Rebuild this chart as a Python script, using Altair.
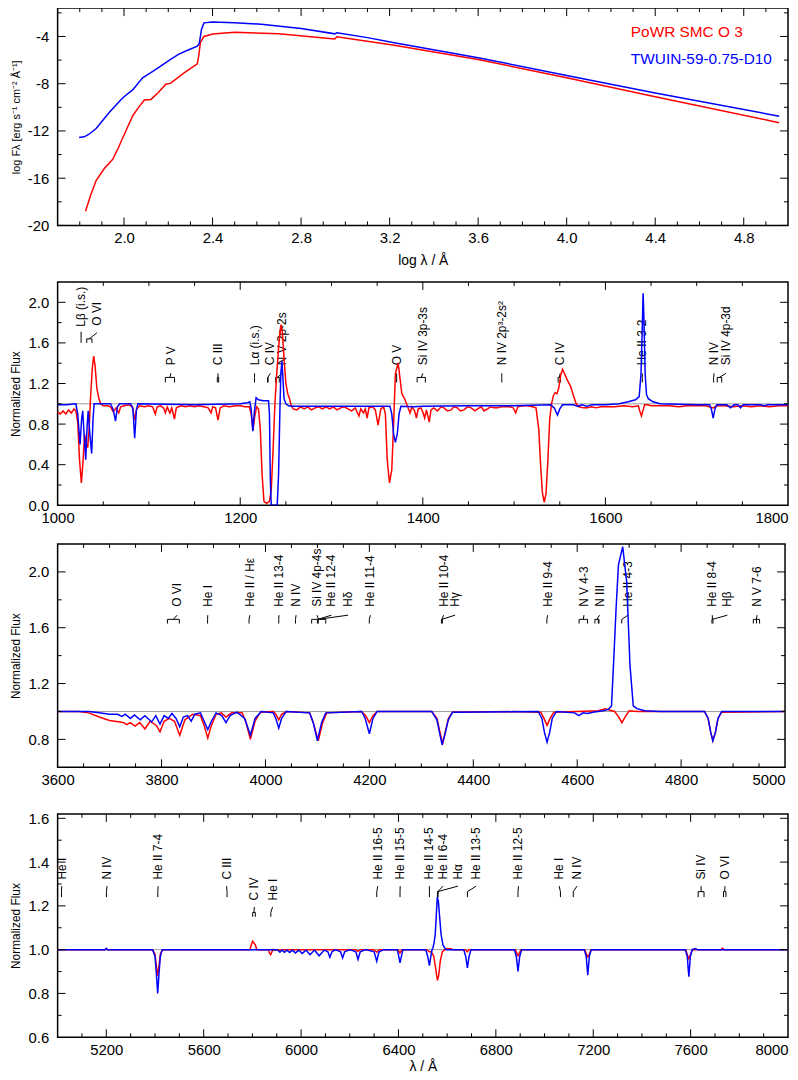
import altair as alt
import pandas as pd
import numpy as np

FONT = "Liberation Sans"
RED = "#ff0000"
BLUE = "#0000ff"

# ---------------- Panel 1: SED (log lambda, log F) ----------------
P1_BLUE = [(1.797,-12.56),(1.82,-12.5),(1.84,-12.3),(1.874,-11.79),(1.934,-10.42),(1.987,-9.33),(2.0,-9.1),
           (2.04,-8.5),(2.084,-7.5),(2.13,-6.95),(2.174,-6.4),(2.21,-5.95),(2.248,-5.5),(2.29,-5.15),(2.331,-4.82),
           (2.340,-4.6),(2.35,-3.4),(2.361,-2.85),(2.40,-2.78),(2.50,-2.84),(2.62,-2.96),(2.80,-3.33),(2.953,-3.78),
           (2.962,-3.68),(3.10,-4.1),(3.221,-4.54),(3.6,-5.8),(4.0,-7.3),(4.4,-8.78),(4.96,-10.75)]
P1_RED = [(1.826,-18.79),(1.85,-17.4),(1.874,-16.2),(1.91,-15.2),(1.949,-14.4),(1.975,-13.4),(2.0,-12.34),
          (2.04,-10.69),(2.07,-9.9),(2.092,-9.38),(2.122,-9.33),(2.155,-8.75),(2.189,-8.04),(2.211,-7.95),
          (2.27,-7.1),(2.331,-6.32),(2.338,-5.6),(2.345,-4.5),(2.361,-4.0),(2.40,-3.8),(2.50,-3.64),(2.70,-3.78),
          (2.952,-4.21),(2.962,-4.02),(3.221,-4.74),(3.6,-5.95),(4.0,-7.5),(4.4,-9.1),(4.96,-11.3)]
LEGEND = [(4.29, -3.62, "PoWR SMC O 3", RED), (4.29, -5.92, "TWUIN-59-0.75-D10", BLUE)]

# ---------------- Panel 2: UV 1000-1800 A ----------------
P2_RED = [(1000,0.92),(1003,0.90),(1006,0.93),(1009,0.90),(1012,0.94),(1015,0.91),(1018,0.95),(1020,0.93),
          (1022,0.82),(1024,0.45),(1026,0.22),(1028,0.45),(1029.5,0.70),(1031,0.62),(1033,0.57),(1034.5,0.75),
          (1036,1.05),(1038,1.35),(1039.5,1.47),(1041,1.38),(1043,1.15),(1045,1.06),(1047,1.00),(1050,0.98),
          (1055,0.98),(1058,0.97),(1061,0.92),(1064,0.96),(1067,0.91),(1069,0.97),(1073,0.98),(1078,0.99),
          (1082,0.97),(1084.5,0.84),(1086.5,0.95),(1090,0.98),(1095,0.97),(1100,0.98),(1104,0.97),(1107,0.90),
          (1109,0.97),(1113,0.98),(1116,0.96),(1118,0.91),(1120,0.97),(1123,0.91),(1125,0.96),(1128,0.85),
          (1130,0.96),(1135,0.98),(1140,0.97),(1145,0.98),(1150,0.97),(1155,0.98),(1160,0.97),(1165,0.96),
          (1168,0.91),(1170,0.97),(1173,0.96),(1175.7,0.84),(1178,0.96),(1182,0.98),(1188,0.97),(1195,0.98),
          (1200,0.98),(1205,0.97),(1210,0.97),(1212,0.90),(1214,0.74),(1216,0.88),(1218,0.97),(1220,0.95),
          (1222,0.75),(1224,0.30),(1226,0.04),(1229,0.02),(1232,0.04),(1234,0.15),(1236,0.55),(1238,1.00),
          (1240,1.30),(1242,1.55),(1244.5,1.78),(1246,1.72),(1248,1.45),(1250,1.20),(1252,1.10),(1254,1.05),
          (1256,0.98),(1258,0.95),(1262,0.94),(1266,0.97),(1270,0.95),(1274,0.97),(1278,0.94),(1282,0.96),
          (1286,0.97),(1290,0.95),(1294,0.97),(1298,0.95),(1302,0.97),(1306,0.94),(1310,0.96),(1314,0.97),
          (1318,0.95),(1322,0.93),(1326,0.96),(1330,0.88),(1332,0.95),(1335,0.91),(1337,0.95),(1339,0.86),
          (1341,0.96),(1345,0.97),(1348,0.94),(1351,0.79),(1354,0.95),(1357,0.97),(1359,0.90),(1361,0.45),
          (1363.5,0.22),(1366,0.35),(1368,0.80),(1370,1.30),(1373,1.40),(1375,1.25),(1377,1.10),(1380,1.05),
          (1383,0.98),(1386,0.91),(1388,0.97),(1391,0.93),(1393,0.86),(1395,0.95),(1398,0.96),(1400,0.92),
          (1402,0.86),(1404,0.94),(1407,0.82),(1409,0.94),(1412,0.96),(1416,0.93),(1420,0.97),(1423,0.96),
          (1427,0.93),(1431,0.94),(1434,0.97),(1438,0.96),(1441,0.93),(1445,0.94),(1449,0.97),(1453,0.96),
          (1457,0.93),(1460,0.95),(1464,0.97),(1467,0.93),(1471,0.95),(1474,0.97),(1478,0.96),(1482,0.96),
          (1486,0.97),(1490,0.97),(1495,0.97),(1499,0.96),(1501.8,0.91),(1504,0.97),(1510,0.98),(1515,0.98),
          (1520,0.97),(1524,0.96),(1527,0.75),(1529,0.40),(1531,0.12),(1533,0.03),(1535,0.12),(1537,0.45),
          (1539,0.85),(1541,1.00),(1543,1.08),(1545,1.11),(1547,1.10),(1549,1.16),(1551,1.28),(1553,1.34),
          (1556,1.28),(1559,1.22),(1562,1.17),(1565,1.08),(1568,1.00),(1571,0.97),(1576,0.96),(1580,0.96),
          (1585,0.97),(1590,0.96),(1595,0.97),(1600,0.97),(1610,0.97),(1620,0.98),(1630,0.97),(1636,0.98),
          (1638,0.92),(1639.5,0.88),(1641,0.93),(1643,0.99),(1646,0.99),(1650,0.98),(1660,0.98),(1670,0.98),
          (1680,0.97),(1690,0.98),(1700,0.98),(1710,0.98),(1718,0.96),(1722,0.98),(1730,0.98),(1740,0.97),
          (1750,0.98),(1760,0.97),(1770,0.98),(1780,0.97),(1790,0.98),(1800,0.98)]
P2_BLUE = [(1000,0.99),(1010,0.99),(1020,1.00),(1022,0.90),(1024.6,0.60),(1026.3,0.85),(1027.5,0.93),(1029,0.70),
           (1030.8,0.45),(1032.3,0.78),(1033.5,0.93),(1035.3,0.70),(1037.3,0.51),(1038.8,0.85),(1040,1.00),
           (1058,1.00),(1061,0.94),(1063.4,0.83),(1065.5,0.97),(1068,1.00),(1080,1.00),(1082.5,0.95),
           (1084.4,0.66),(1086.3,0.94),(1088,1.00),(1150,0.99),(1200,1.00),(1208,1.01),(1210.5,1.02),(1212,0.95),
           (1213.8,0.73),(1215.5,0.92),(1217.4,1.06),(1220,1.04),(1225,1.03),(1231,1.03),(1232,0.90),(1233,0.25),
           (1234,0.00),(1240.5,0.00),(1242,0.30),(1243.5,0.95),(1244.5,1.30),(1245.7,1.42),(1246.8,1.25),
           (1248,1.05),(1250,1.00),(1253,0.98),(1256,0.975),(1300,0.975),(1350,0.975),(1364,0.975),(1366,0.90),
           (1368,0.70),(1370,0.62),(1372,0.70),(1374,0.90),(1376,0.975),(1390,0.97),(1400,0.975),(1450,0.98),
           (1500,0.98),(1520,0.985),(1540,0.99),(1544,0.96),(1547.5,0.89),(1550,0.95),(1553,0.99),(1565,0.99),
           (1570,0.975),(1574,0.99),(1580,0.975),(1585,0.99),(1600,0.99),(1615,1.00),(1625,1.02),(1633,1.04),
           (1637,1.07),(1639,1.3),(1640.5,1.8),(1641.3,2.09),(1642.3,1.8),(1643.5,1.3),(1645,1.09),(1647,1.05),
           (1652,1.02),(1660,1.00),(1700,0.99),(1714,0.99),(1716,0.95),(1718,0.86),(1720,0.95),(1722,0.99),
           (1733,0.99),(1737,0.96),(1741,0.99),(1745,0.99),(1748,0.96),(1751,0.99),(1770,0.99),(1774,0.98),
           (1778,0.99),(1800,0.99)]

# ---------------- Panel 3: 3600-5000 A ----------------
P3_RED = [(3600,1.0),(3640,1.0),(3660,0.99),(3680,0.96),(3700,0.935),(3720,0.925),(3727,0.92),(3733,0.905),
          (3740,0.92),(3749,0.895),(3758,0.92),(3768,0.875),(3778,0.93),(3790,0.90),(3797,0.855),(3805,0.93),
          (3815,0.95),(3825,0.93),(3835,0.83),(3845,0.94),(3860,0.98),(3875,0.97),(3882,0.90),(3889,0.81),
          (3896,0.90),(3905,0.98),(3915,0.99),(3924,0.96),(3935,0.99),(3955,0.99),(3962,0.93),(3971,0.80),
          (3980,0.93),(3990,0.995),(4015,1.0),(4020,0.98),(4025.6,0.94),(4031,0.98),(4040,1.0),(4085,0.99),
          (4092,0.92),(4101.7,0.79),(4110,0.92),(4118,0.99),(4185,1.0),(4193,0.97),(4200,0.92),(4207,0.97),
          (4215,1.0),(4320,1.0),(4330,0.95),(4336,0.85),(4341,0.77),(4346,0.85),(4352,0.95),(4360,0.995),
          (4470,1.0),(4472,0.995),(4475,1.0),(4530,0.995),(4536,0.95),(4542,0.90),(4548,0.95),(4555,0.995),
          (4600,1.0),(4640,1.005),(4655,1.02),(4662,1.01),(4672,1.0),(4680,0.96),(4686,0.92),(4692,0.96),
          (4700,1.005),(4715,1.0),(4845,1.0),(4852,0.95),(4857,0.85),(4861,0.79),(4866,0.85),(4871,0.95),
          (4878,0.995),(5000,1.0)]
P3_BLUE = [(3600,1.0),(3660,1.0),(3680,0.99),(3700,0.98),(3715,0.98),(3724,0.965),(3730,0.98),(3740,0.95),
           (3748,0.975),(3759,0.94),(3768,0.97),(3781,0.925),(3789,0.97),(3797,0.91),(3805,0.97),(3813,0.95),
           (3820,0.985),(3828,0.95),(3835,0.89),(3842,0.96),(3850,0.97),(3857,0.93),(3864,0.98),(3875,0.99),
           (3882,0.93),(3889,0.87),(3896,0.93),(3905,0.99),(3916,0.97),(3924,0.92),(3932,0.97),(3945,0.995),
           (3960,0.95),(3971,0.83),(3980,0.95),(3992,1.0),(4015,0.99),(4020,0.95),(4025.6,0.88),(4031,0.95),
           (4040,1.0),(4085,0.99),(4092,0.92),(4100,0.79),(4108,0.92),(4116,0.99),(4185,1.0),(4192,0.95),
           (4200,0.84),(4207,0.95),(4215,1.0),(4320,1.0),(4330,0.94),(4336,0.83),(4340,0.76),(4345,0.83),
           (4352,0.94),(4360,0.995),(4525,1.0),(4532,0.95),(4537,0.85),(4542,0.78),(4547,0.85),(4552,0.95),
           (4560,1.0),(4595,0.99),(4603,0.97),(4611,0.99),(4620,0.985),(4630,0.995),(4650,1.005),(4660,1.015),
           (4666,1.04),(4669.8,1.33),(4675,1.75),(4679.4,2.05),(4687.6,2.18),(4695.2,1.93),(4701.6,1.33),
           (4707.9,1.04),(4715,1.02),(4730,1.005),(4760,1.0),(4845,1.0),(4852,0.95),(4857,0.85),(4861,0.79),
           (4866,0.85),(4871,0.95),(4878,1.0),(5000,1.0)]

# ---------------- Panel 4: 5000-8000 A ----------------
P4_RED = [(5000,1.0),(5195,1.0),(5200,1.003),(5205,1.0),(5390,1.0),(5400,0.98),(5405,0.93),(5411,0.88),
          (5417,0.93),(5422,0.98),(5430,1.0),(5790,1.0),(5795,1.02),(5801,1.038),(5807,1.03),(5813,1.02),
          (5818,1.0),(5866,1.0),(5870,0.985),(5875,0.977),(5880,0.99),(5885,1.0),(5915,0.997),(5925,1.0),
          (6225,1.0),(6234,0.992),(6243,1.0),(6300,1.0),(6311,0.988),(6320,1.0),(6398,1.0),(6406,0.985),
          (6414,1.0),(6515,1.0),(6527,0.99),(6535,0.99),(6545,0.97),(6552,0.92),(6560,0.86),(6565,0.88),
          (6572,0.95),(6580,0.99),(6590,1.0),(6600,1.005),(6615,1.004),(6625,1.0),(6675,1.0),(6683,0.99),
          (6690,1.0),(6880,1.0),(6886,0.985),(6891,0.973),(6897,0.985),(6903,1.0),(7165,1.0),(7172,0.98),
          (7178,0.967),(7184,0.98),(7191,1.0),(7580,1.0),(7587,0.975),(7593,0.958),(7599,0.975),(7606,1.0),
          (7725,1.0),(7731,1.006),(7737,1.0),(8000,1.0)]
P4_BLUE = [(5000,1.0),(5195,1.0),(5200,1.006),(5205,1.0),(5390,1.0),(5400,0.97),(5405,0.90),(5411,0.80),
           (5417,0.90),(5422,0.97),(5430,1.0),(5900,1.0),(5906,0.997),(5913,0.988),(5922,0.998),(5932,0.988),
           (5942,0.998),(5953,0.987),(5964,0.998),(5977,0.985),(5990,0.998),(6004.7,0.982),(6020,0.998),
           (6036.7,0.977),(6055,0.998),(6074.1,0.972),(6095,0.998),(6110,0.99),(6118.2,0.965),(6127,0.99),
           (6140,1.0),(6162,0.99),(6170.6,0.962),(6179,0.99),(6200,1.0),(6225,0.99),(6233.8,0.955),(6243,0.99),
           (6265,1.0),(6300,0.99),(6310.8,0.947),(6320,0.99),(6340,1.0),(6395,1.0),(6400,0.975),(6406.4,0.94),
           (6413,0.975),(6418,1.0),(6512,1.0),(6520,0.97),(6527.1,0.927),(6533,0.97),(6538,1.0),(6542,1.01),
           (6546,1.03),(6551,1.07),(6555,1.15),(6559.5,1.24),(6564,1.22),(6569,1.15),(6575,1.07),(6583,1.02),
           (6595,1.0),(6668,1.0),(6676,0.97),(6683.2,0.917),(6690,0.97),(6698,1.0),(6876,1.0),(6884,0.97),
           (6890.9,0.90),(6898,0.97),(6906,1.0),(7163,1.0),(7171,0.97),(7177.5,0.883),(7184,0.97),(7192,1.0),
           (7578,1.0),(7586,0.97),(7592.7,0.876),(7599,0.97),(7607,1.0),(7614,1.003),(7620,1.005),(7628,1.0),
           (8000,1.0)]

# ---------------- line identifications ----------------
G2 = [
    dict(comps=[1025.72], labels=[("Lβ (i.s.)", 1025.7)], fa=1.60, fb=1.65, fc=1.71, ft=1.76),
    dict(comps=[1031.9, 1037.6], labels=[("O VI", 1043)], fa=1.60, fb=1.64, fc=1.70, ft=1.77),
    dict(comps=[1118.0, 1128.0], labels=[("P V", 1124)]),
    dict(comps=[1174.9, 1176.4], labels=[("C III", 1175.7)]),
    dict(comps=[1215.67], labels=[("Lα (i.s.)", 1215.7)]),
    dict(comps=[1230.0, 1230.5], labels=[("C IV", 1233)]),
    dict(comps=[1238.8, 1242.8], labels=[("N V 2p-2s", 1246)]),
    dict(comps=[1371.3], labels=[("O V", 1371.3)]),
    dict(comps=[1393.76, 1402.77], labels=[("Si IV 3p-3s", 1400)]),
    dict(comps=[1486.5], labels=[("N IV 2p³-2s²", 1486.5)]),
    dict(comps=[1548.2, 1550.8], labels=[("C IV", 1550.5)]),
    dict(comps=[1640.4], labels=[("He II 3-2", 1640.4)]),
    dict(comps=[1718.5], labels=[("N IV", 1719)]),
    dict(comps=[1722.5, 1727.4], labels=[("Si IV 4p-3d", 1732)]),
]
G3 = [
    dict(comps=[3811.35, 3834.24], labels=[("O VI", 3830)]),
    dict(comps=[3888.6], labels=[("He I", 3889)]),
    dict(comps=[3968.4], labels=[("He II / Hε", 3970)]),
    dict(comps=[4025.6], labels=[("He II 13-4", 4026)]),
    dict(comps=[4057.8], labels=[("N IV", 4059)]),
    dict(comps=[4088.9, 4116.1], labels=[("Si IV 4p-4s", 4099)]),
    dict(comps=[4100.0, 4101.7], labels=[("He II 12-4", 4127), ("Hδ", 4159)]),
    dict(comps=[4199.8], labels=[("He II 11-4", 4202)]),
    dict(comps=[4338.7, 4340.5], labels=[("He II 10-4", 4343), ("Hγ", 4365)]),
    dict(comps=[4541.6], labels=[("He II 9-4", 4543)]),
    dict(comps=[4603.7, 4619.9], labels=[("N V 4-3", 4613)]),
    dict(comps=[4634.1, 4640.6, 4641.9], labels=[("N III", 4643)]),
    dict(comps=[4685.7], labels=[("He II 4-3", 4698)]),
    dict(comps=[4859.3, 4861.3], labels=[("He II 8-4", 4860), ("Hβ", 4889)]),
    dict(comps=[4939.0, 4945.0, 4951.0], labels=[("N V 7-6", 4946)]),
]
G4 = [
    dict(comps=[5015.7], labels=[("He I", 5017)]),
    dict(comps=[5200.4], labels=[("N IV", 5203)]),
    dict(comps=[5411.5], labels=[("He II 7-4", 5413)]),
    dict(comps=[5695.9], labels=[("C III", 5694)]),
    dict(comps=[5801.3, 5812.0], labels=[("C IV", 5808)], fa=1.15, fb=1.17, fc=1.195, ft=1.225),
    dict(comps=[5875.6], labels=[("He I", 5883)], fa=1.15, fb=1.17, fc=1.195, ft=1.225),
    dict(comps=[6310.8], labels=[("He II 16-5", 6315)]),
    dict(comps=[6406.4], labels=[("He II 15-5", 6407)]),
    dict(comps=[6527.1], labels=[("He II 14-5", 6527)]),
    dict(comps=[6560.1, 6562.8], labels=[("He II 6-4", 6583), ("Hα", 6644)]),
    dict(comps=[6683.2], labels=[("He II 13-5", 6719)]),
    dict(comps=[6890.9], labels=[("He II 12-5", 6893)]),
    dict(comps=[7065.2], labels=[("He I", 7060)]),
    dict(comps=[7118.0], labels=[("N IV", 7133)]),
    dict(comps=[7631.0, 7655.0], labels=[("Si IV", 7643)]),
    dict(comps=[7735.0, 7745.0], labels=[("O VI", 7741)]),
]


def annot_frames(groups, fa, fb, fc, ft):
    segs, texts = [], []
    for g in groups:
        a, b, c, t = g.get("fa", fa), g.get("fb", fb), g.get("fc", fc), g.get("ft", ft)
        comps = g["comps"]
        for cx in comps:
            segs.append((cx, a, cx, b))
        if len(comps) > 1:
            segs.append((min(comps), b, max(comps), b))
        cen = (min(comps) + max(comps)) / 2.0
        for text, lx in g["labels"]:
            segs.append((cen, b, lx, c))
            texts.append((lx, t, text))
    return (pd.DataFrame(segs, columns=["x", "y", "x2", "y2"]),
            pd.DataFrame(texts, columns=["x", "y", "t"]))


def tick_layers(xmaj, xmin, ymaj, ymin, W, H):
    layers = []
    for vals, ln in ((xmaj, 8), (xmin, 4)):
        d = pd.DataFrame({"x": vals})
        base = alt.Chart(d).mark_rule(color="black", strokeWidth=1)
        layers.append(base.encode(x="x:Q", y=alt.value(H), y2=alt.value(H - ln)))
        layers.append(base.encode(x="x:Q", y=alt.value(0), y2=alt.value(ln)))
    for vals, ln in ((ymaj, 8), (ymin, 4)):
        d = pd.DataFrame({"y": vals})
        base = alt.Chart(d).mark_rule(color="black", strokeWidth=1)
        layers.append(base.encode(y="y:Q", x=alt.value(0), x2=alt.value(ln)))
        layers.append(base.encode(y="y:Q", x=alt.value(W), x2=alt.value(W - ln)))
    return layers


def xaxis(values, fmt, title, title_color="black", tfs=14, tpad=3, last=None):
    kw = dict(values=values, format=fmt, ticks=False, domain=False, grid=False, labelFontSize=15,
              labelPadding=5, labelColor="black", labelFont=FONT, title=title, titleFont=FONT,
              titleFontSize=tfs, titleFontWeight="normal", titleColor=title_color, titlePadding=tpad,
              labelOverlap=False, labelBound=False)
    if last is not None:
        kw["labelAlign"] = {"condition": {"test": f"datum.value >= {last}", "value": "right"},
                            "value": "center"}
    return alt.Axis(**kw)


def yaxis(values, title, fmt=None, expr=None, tfs=12):
    kw = dict(values=values, ticks=False, domain=False, grid=False, labelFontSize=15, labelPadding=9,
              labelColor="black", labelFont=FONT, title=title, titleFont=FONT, titleFontSize=tfs,
              titleFontWeight="normal", titleColor="black", titlePadding=6, labelOverlap=False)
    if fmt:
        kw["format"] = fmt
    if expr:
        kw["labelExpr"] = expr
    return alt.Axis(**kw)


def frange(a, b, step):
    n = int(round((b - a) / step))
    return [round(a + i * step, 6) for i in range(n + 1)]


def spectral_panel(red, blue, groups, lv, xdom, ydom, W, H, xmajor, xminor_step, ymajor, yminor_step,
                   xlab_vals, xtitle, xtitle_color, xtfs):
    xs = alt.Scale(domain=xdom, nice=False, zero=False)
    ys = alt.Scale(domain=ydom, nice=False, zero=False)
    segs, texts = annot_frames(groups, *lv)
    cont = alt.Chart(pd.DataFrame({"y": [1.0]})).mark_rule(color="#9a9a9a", strokeWidth=1).encode(
        y=alt.Y("y:Q", scale=ys))
    seg = alt.Chart(segs).mark_rule(color="black", strokeWidth=1).encode(
        x=alt.X("x:Q", scale=xs), y=alt.Y("y:Q", scale=ys), x2="x2", y2="y2")
    txt = alt.Chart(texts).mark_text(angle=270, align="left", baseline="middle", font=FONT,
                                     fontSize=12, color="black").encode(
        x=alt.X("x:Q", scale=xs), y=alt.Y("y:Q", scale=ys), text="t:N")
    r = alt.Chart(pd.DataFrame(red, columns=["x", "y"])).mark_line(color=RED, strokeWidth=1.5, clip=True).encode(
        x=alt.X("x:Q", scale=xs, axis=xaxis(xlab_vals, "d", xtitle, xtitle_color, xtfs, 3, last=xdom[1])),
        y=alt.Y("y:Q", scale=ys, axis=yaxis(ymajor, "Normalized Flux", fmt=".1f")))
    b = alt.Chart(pd.DataFrame(blue, columns=["x", "y"])).mark_line(color=BLUE, strokeWidth=1.5, clip=True).encode(
        x=alt.X("x:Q", scale=xs), y=alt.Y("y:Q", scale=ys))
    xminor = [v for v in frange(xdom[0], xdom[1], xminor_step) if v not in xmajor and xdom[0] < v < xdom[1]]
    yminor = [v for v in frange(ydom[0], ydom[1], yminor_step)
              if all(abs(v - m) > 1e-6 for m in ymajor) and ydom[0] < v < ydom[1]]
    ticks = tick_layers([v for v in xmajor if xdom[0] < v < xdom[1]], xminor,
                        [v for v in ymajor if ydom[0] < v < ydom[1]], yminor, W, H)
    return alt.layer(cont, seg, txt, r, b, *ticks).properties(width=W, height=H)


# ---- Panel 1 ----
W1, H1 = 736, 219
xs1 = alt.Scale(domain=[1.7, 5.0], nice=False, zero=False)
ys1 = alt.Scale(domain=[-20, -1.6], nice=False, zero=False)
x1_major = [2.0, 2.4, 2.8, 3.2, 3.6, 4.0, 4.4, 4.8]
x1_minor = [v for v in frange(1.8, 4.9, 0.1) if all(abs(v - m) > 1e-6 for m in x1_major)]
y1_major = [-20, -16, -12, -8, -4]
y1_minor = [-18, -14, -10, -6, -2]
r1 = alt.Chart(pd.DataFrame(P1_RED, columns=["x", "y"])).mark_line(color=RED, strokeWidth=1.5, clip=True).encode(
    x=alt.X("x:Q", scale=xs1, axis=xaxis(x1_major, ".1f", "log λ / Å", tpad=8)),
    y=alt.Y("y:Q", scale=ys1, axis=yaxis(y1_major, "log Fλ [erg s⁻¹ cm⁻² Å⁻¹]", expr="'' + datum.value",
                                         tfs=11)))
b1 = alt.Chart(pd.DataFrame(P1_BLUE, columns=["x", "y"])).mark_line(color=BLUE, strokeWidth=1.5, clip=True).encode(
    x=alt.X("x:Q", scale=xs1), y=alt.Y("y:Q", scale=ys1))
leg = alt.Chart(pd.DataFrame(LEGEND, columns=["x", "y", "t", "c"])).mark_text(
    align="left", baseline="middle", font=FONT, fontSize=15.5).encode(
    x=alt.X("x:Q", scale=xs1), y=alt.Y("y:Q", scale=ys1), text="t:N", color=alt.Color("c:N", scale=None))
p1 = alt.layer(r1, b1, leg, *tick_layers(x1_major, x1_minor, y1_major, y1_minor, W1, H1)).properties(
    width=W1, height=H1)

# ---- Panel 2 ----
p2 = spectral_panel(P2_RED, P2_BLUE, G2, (1.21, 1.26, 1.30, 1.38), [1000, 1800], [0, 2.2], 736, 225,
                    frange(1000, 1800, 200), 50, [0.0, 0.4, 0.8, 1.2, 1.6, 2.0], 0.2,
                    frange(1000, 1800, 200), "λ / Å", "white", 1)
# ---- Panel 3 ----
p3 = spectral_panel(P3_RED, P3_BLUE, G3, (1.63, 1.66, 1.69, 1.75), [3600, 5000], [0.6, 2.2], 733, 225,
                    frange(3600, 5000, 200), 50, [0.8, 1.2, 1.6, 2.0], 0.2,
                    frange(3600, 5000, 200), "λ / Å", "white", 7)
# ---- Panel 4 ----
p4 = spectral_panel(P4_RED, P4_BLUE, G4, (1.24, 1.265, 1.29, 1.32), [5000, 8000], [0.6, 1.62], 736, 225,
                    frange(5200, 8000, 400), 100, [0.6, 0.8, 1.0, 1.2, 1.4, 1.6], 0.1,
                    frange(5200, 8000, 400), "λ / Å", "black", 14)

chart = alt.vconcat(p1, p2, p3, p4, spacing=12).properties(
    padding={"top": -6, "left": 0, "right": 0, "bottom": 0}).configure(font=FONT).configure_view(
    stroke="black", strokeWidth=1.5)

chart.save("out.html", embed_options={"renderer": "svg", "actions": False})
